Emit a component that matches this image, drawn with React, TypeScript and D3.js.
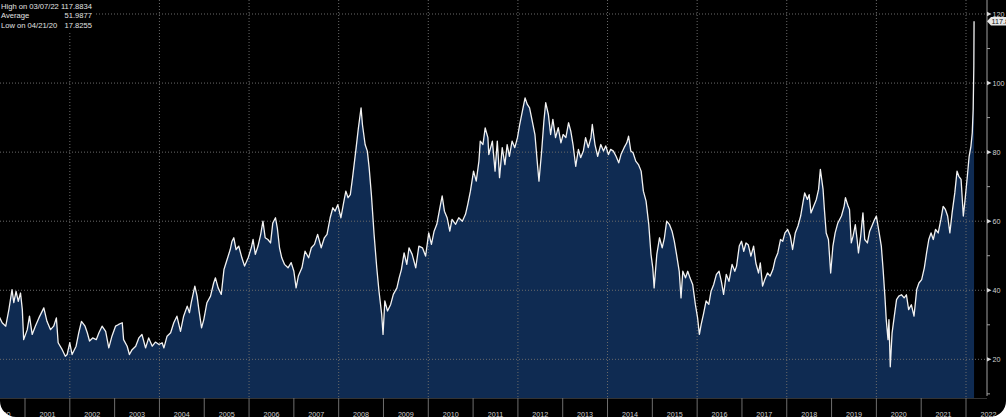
import React, { useRef, useEffect } from 'react';
import * as d3 from 'd3';

// price history, dates as decimal years
const dates = [
  2000.42, 2000.49, 2000.57, 2000.64, 2000.71, 2000.75, 2000.8, 2000.85, 2000.9, 2000.94, 2000.97,
  2001.05, 2001.1, 2001.16, 2001.23, 2001.31, 2001.42, 2001.49, 2001.57, 2001.64, 2001.7, 2001.74, 2001.83, 2001.9, 2001.94,
  2002.0, 2002.05, 2002.14, 2002.2, 2002.26, 2002.34, 2002.39, 2002.44, 2002.51, 2002.59, 2002.65, 2002.72, 2002.8, 2002.87, 2002.94,
  2003.02, 2003.09, 2003.17, 2003.2, 2003.28, 2003.33, 2003.39, 2003.47, 2003.54, 2003.61, 2003.69, 2003.76, 2003.84, 2003.91, 2003.99,
  2004.06, 2004.1, 2004.17, 2004.25, 2004.32, 2004.39, 2004.47, 2004.54, 2004.62, 2004.67, 2004.71, 2004.79, 2004.84, 2004.88, 2004.94, 2004.99,
  2005.06, 2005.14, 2005.21, 2005.25, 2005.31, 2005.38, 2005.44, 2005.51, 2005.58, 2005.62, 2005.66, 2005.71, 2005.77, 2005.84, 2005.9, 2005.98,
  2006.05, 2006.09, 2006.14, 2006.2, 2006.26, 2006.31, 2006.36, 2006.42, 2006.48, 2006.53, 2006.59, 2006.63, 2006.68, 2006.73, 2006.79, 2006.87, 2006.94,
  2007.0, 2007.05, 2007.1, 2007.18, 2007.25, 2007.33, 2007.39, 2007.46, 2007.53, 2007.61, 2007.68, 2007.74, 2007.81, 2007.87, 2007.92, 2007.98,
  2008.05, 2008.11, 2008.16, 2008.21, 2008.26, 2008.31, 2008.39, 2008.44, 2008.5, 2008.53, 2008.59, 2008.64, 2008.68, 2008.73, 2008.79, 2008.85, 2008.9, 2008.96, 2008.99,
  2009.03, 2009.09, 2009.16, 2009.22, 2009.3, 2009.35, 2009.4, 2009.46, 2009.52, 2009.57, 2009.64, 2009.72, 2009.79, 2009.87, 2009.94,
  2010.01, 2010.07, 2010.13, 2010.19, 2010.26, 2010.31, 2010.36, 2010.42, 2010.48, 2010.53, 2010.61, 2010.68, 2010.76, 2010.83, 2010.88, 2010.94,
  2011.01, 2011.07, 2011.13, 2011.16, 2011.22, 2011.27, 2011.33, 2011.35, 2011.43, 2011.49, 2011.54, 2011.59, 2011.65, 2011.71, 2011.76, 2011.81, 2011.87, 2011.93, 2011.99,
  2012.04, 2012.1, 2012.16, 2012.21, 2012.26, 2012.32, 2012.38, 2012.43, 2012.47, 2012.53, 2012.58, 2012.62, 2012.68, 2012.73, 2012.78, 2012.84, 2012.9, 2012.96,
  2013.01, 2013.07, 2013.13, 2013.18, 2013.23, 2013.29, 2013.35, 2013.4, 2013.46, 2013.51, 2013.57, 2013.63, 2013.66, 2013.72, 2013.78, 2013.85, 2013.91, 2013.96,
  2014.02, 2014.07, 2014.13, 2014.19, 2014.25, 2014.3, 2014.37, 2014.43, 2014.47, 2014.52, 2014.57, 2014.63, 2014.69, 2014.75, 2014.8, 2014.86, 2014.92, 2014.97,
  2015.01, 2015.04, 2015.1, 2015.16, 2015.22, 2015.27, 2015.32, 2015.38, 2015.44, 2015.49, 2015.54, 2015.6, 2015.64, 2015.68, 2015.74, 2015.79, 2015.84, 2015.9, 2015.96,
  2016.01, 2016.05, 2016.09, 2016.14, 2016.2, 2016.26, 2016.31, 2016.37, 2016.43, 2016.49, 2016.54, 2016.59, 2016.65, 2016.71, 2016.78, 2016.84, 2016.88, 2016.94, 2016.99,
  2017.04, 2017.09, 2017.14, 2017.2, 2017.26, 2017.31, 2017.37, 2017.41, 2017.46, 2017.51, 2017.57, 2017.63, 2017.69, 2017.74, 2017.8, 2017.86, 2017.91, 2017.96,
  2018.02, 2018.08, 2018.13, 2018.19, 2018.25, 2018.31, 2018.36, 2018.4, 2018.46, 2018.5, 2018.54, 2018.6, 2018.66, 2018.71, 2018.75, 2018.81, 2018.84, 2018.88, 2018.93, 2018.98,
  2019.03, 2019.08, 2019.14, 2019.22, 2019.28, 2019.31, 2019.37, 2019.4, 2019.44, 2019.48, 2019.53, 2019.57, 2019.6, 2019.65, 2019.7, 2019.74, 2019.8, 2019.85, 2019.9, 2019.96,
  2020.0, 2020.05, 2020.11, 2020.15, 2020.19, 2020.22, 2020.26, 2020.28, 2020.31, 2020.35, 2020.4, 2020.45, 2020.5, 2020.56, 2020.62, 2020.67, 2020.72, 2020.78, 2020.84, 2020.9, 2020.95,
  2021.01, 2021.07, 2021.12, 2021.17, 2021.22, 2021.27, 2021.32, 2021.38, 2021.44, 2021.49, 2021.54, 2021.59, 2021.64, 2021.69, 2021.75, 2021.8, 2021.84, 2021.89, 2021.94, 2021.98,
  2022.03, 2022.07, 2022.11, 2022.14, 2022.16, 2022.175, 2022.18,
];
const prices = [
  32.5, 30.6, 29.6, 34.4, 40.2, 36.4, 39.7, 36.8, 39.2, 34.4, 25.7,
  28.6, 32.5, 27.2, 29.6, 32.0, 34.9, 31.0, 28.6, 29.6, 32.0, 24.8, 22.8, 20.9, 21.4,
  24.8, 21.4, 23.8, 27.7, 31.0, 29.6, 27.7, 25.3, 26.2, 25.7, 27.7, 29.6, 28.1, 23.3, 26.7,
  29.6, 30.1, 30.6, 25.7, 23.8, 21.4, 22.8, 23.8, 26.2, 27.2, 23.3, 26.2, 23.8, 25.0, 24.3,
  24.8, 23.3, 26.7, 27.7, 30.6, 32.5, 28.1, 32.5, 35.4, 33.5, 36.4, 41.2, 38.3, 34.4, 29.1, 31.5,
  36.4, 38.3, 42.1, 43.6, 40.7, 38.8, 46.0, 48.9, 51.8, 54.2, 55.2, 51.8, 52.8, 49.4, 47.0, 49.4,
  52.3, 54.7, 50.4, 52.8, 56.2, 60.0, 55.2, 54.7, 53.7, 59.5, 61.0, 58.1, 52.3, 49.4, 47.5, 46.5, 48.0,
  45.5, 40.7, 44.1, 46.5, 51.3, 49.4, 52.3, 53.3, 56.2, 52.3, 55.2, 56.2, 61.0, 63.9, 62.9, 64.8,
  61.0, 65.3, 68.7, 66.8, 67.7, 72.6, 81.3, 87.0, 92.8, 88.0, 82.2, 80.3, 75.5, 67.7, 56.2, 46.5, 39.7, 33.0, 27.2,
  36.9, 34.0, 35.9, 38.8, 40.7, 43.6, 46.0, 50.8, 47.5, 52.3, 50.4, 46.5, 52.8, 52.3, 49.9,
  56.6, 53.3, 57.1, 59.1, 63.9, 67.3, 62.9, 61.0, 57.1, 60.5, 59.1, 61.0, 60.0, 62.0, 64.8, 68.7,
  74.5, 71.6, 77.4, 83.2, 82.2, 87.0, 84.2, 79.3, 83.2, 74.5, 83.2, 72.6, 81.3, 76.4, 82.2, 78.8, 83.2, 81.3, 84.2,
  88.0, 91.9, 95.7, 93.8, 92.8, 89.0, 85.1, 77.4, 71.6, 80.3, 89.0, 94.3, 90.9, 85.1, 89.5, 84.2, 87.1, 82.7,
  85.1, 84.2, 88.5, 86.1, 82.2, 75.9, 80.8, 78.4, 80.3, 84.2, 81.3, 84.2, 88.0, 82.2, 78.8, 82.2, 80.3, 81.8,
  79.3, 80.8, 80.3, 78.8, 76.9, 79.3, 81.3, 82.7, 84.6, 80.3, 79.8, 77.4, 76.4, 74.5, 68.7, 65.8, 59.1, 50.4,
  46.5, 40.7, 50.4, 55.2, 52.3, 55.2, 60.0, 59.1, 57.1, 54.2, 50.4, 45.5, 37.8, 45.5, 43.6, 45.5, 43.6, 41.7, 35.9,
  32.0, 27.2, 30.1, 33.0, 36.9, 35.9, 39.7, 41.7, 44.6, 45.5, 42.6, 38.8, 44.6, 42.6, 47.5, 45.5, 47.0, 52.8, 54.2,
  51.3, 53.7, 53.2, 49.9, 52.8, 47.9, 45.0, 47.9, 41.2, 43.1, 45.0, 44.1, 46.0, 48.9, 50.8, 54.7, 54.2, 56.6,
  57.6, 55.7, 51.8, 56.6, 58.6, 61.5, 65.3, 68.2, 66.3, 67.7, 62.4, 64.3, 66.3, 69.2, 75.0, 69.2, 63.4, 56.6, 54.7, 45.0,
  52.8, 56.6, 59.5, 61.5, 64.3, 66.8, 64.3, 63.4, 53.7, 55.7, 59.0, 54.7, 50.8, 55.7, 62.4, 54.7, 53.7, 57.1, 58.6, 60.5,
  61.5, 57.6, 52.8, 46.0, 38.3, 31.5, 25.7, 31.5, 17.83, 27.6, 32.5, 37.3, 38.3, 38.7, 37.8, 38.7, 34.4, 35.8, 32.5, 40.2, 42.1,
  43.1, 46.5, 50.8, 54.7, 56.6, 54.7, 57.6, 56.6, 60.5, 64.3, 63.4, 61.5, 56.6, 62.4, 68.2, 74.5, 73.0, 72.1, 61.5, 66.3,
  73.0, 78.8, 81.7, 85.6, 92.4, 105.0, 117.88,
];

const yearLabels = ['2000', '2001', '2002', '2003', '2004', '2005', '2006', '2007', '2008', '2009', '2010',
  '2011', '2012', '2013', '2014', '2015', '2016', '2017', '2018', '2019', '2020', '2021', '2022'];
const yTicks = [20, 40, 60, 80, 100, 120];
const yMinorTicks = [10, 30, 50, 70, 90, 110];
const legendLabels = ['Last Price', 'High on 03/07/22', 'Average', 'Low on 04/21/20'];
const legendValues = ['117.8834', '117.8834', '51.9877', '17.8255'];
const lastPrice = 117.8834;

function PriceChart() {
  const svgRef = useRef(null);

  useEffect(() => {
    const W = 1006;
    const H = 417;
    const axisX = 987;
    const bottom = 398;
    const font = '"Liberation Sans", Arial, sans-serif';

    const svg = d3.select(svgRef.current).attr('width', W).attr('height', H);
    svg.selectAll('*').remove();

    svg.append('rect').attr('width', W).attr('height', H).attr('fill', '#000');

    const x = d3.scaleLinear().domain([2000, 2022]).range([-19.8, 966]);
    const y = d3.scaleLinear().domain([0, 120]).range([428.4, 14]);
    const pts: [number, number][] = dates.map((d, i) => [d, prices[i]]);

    svg.append('clipPath').attr('id', 'plotclip')
      .append('rect').attr('x', 0).attr('y', 0).attr('width', axisX).attr('height', bottom);

    const plot = svg.append('g').attr('clip-path', 'url(#plotclip)');

    // area under the price
    const area = d3.area<[number, number]>()
      .x((d) => x(d[0]))
      .y0(bottom)
      .y1((d) => y(d[1]));
    plot.append('path').datum(pts).attr('d', area).attr('fill', '#0f2b52');

    // dotted grid
    plot.selectAll('.hgrid').data(yTicks).join('line')
      .attr('x1', 0).attr('x2', axisX)
      .attr('y1', (d) => y(d)).attr('y2', (d) => y(d))
      .attr('stroke', '#6a6a6a').attr('stroke-width', 1).attr('stroke-dasharray', '1,2');
    const evenYears = yearLabels.filter((s) => +s % 2 === 0 && +s > 2000);
    plot.selectAll('.vgrid').data(evenYears).join('line')
      .attr('x1', (d) => x(+d)).attr('x2', (d) => x(+d))
      .attr('y1', 0).attr('y2', bottom)
      .attr('stroke', '#6a6a6a').attr('stroke-width', 1).attr('stroke-dasharray', '1,2');

    const line = d3.line<[number, number]>()
      .x((d) => x(d[0]))
      .y((d) => y(d[1]));
    plot.append('path').datum(pts).attr('d', line)
      .attr('fill', 'none').attr('stroke', '#f2f2f2').attr('stroke-width', 1.3)
      .attr('stroke-linejoin', 'round');

    // right axis
    svg.append('line').attr('x1', axisX).attr('x2', axisX).attr('y1', 0).attr('y2', 396)
      .attr('stroke', '#a0a0a0').attr('stroke-width', 1);
    svg.selectAll('.minor').data(yMinorTicks).join('line')
      .attr('x1', axisX).attr('x2', axisX + 3)
      .attr('y1', (d) => y(d)).attr('y2', (d) => y(d))
      .attr('stroke', '#a0a0a0');
    svg.selectAll('.tri').data(yTicks).join('path')
      .attr('d', (d) => `M${axisX},${y(d) - 2.2}L${axisX + 4.5},${y(d)}L${axisX},${y(d) + 2.2}Z`)
      .attr('fill', '#d8d8d8');
    svg.selectAll('.ylab').data(yTicks).join('text')
      .attr('x', axisX + 5.5).attr('y', (d) => y(d) + 2.6)
      .attr('font-family', font).attr('font-size', 7.2).attr('fill', '#d0d0d0')
      .text((d) => d);

    // last price tag
    const ly = y(lastPrice);
    svg.append('path')
      .attr('d', `M${axisX},${ly}L${axisX + 4},${ly - 4.3}L${W},${ly - 4.3}L${W},${ly + 4.3}L${axisX + 4},${ly + 4.3}Z`)
      .attr('fill', '#e6e6e6');
    svg.append('text').attr('x', axisX + 4.5).attr('y', ly + 2.7)
      .attr('font-family', font).attr('font-size', 7.2).attr('fill', '#111')
      .text(lastPrice.toFixed(4));

    // bottom year band
    svg.append('line').attr('x1', 0).attr('x2', axisX).attr('y1', bottom + 0.5).attr('y2', bottom + 0.5)
      .attr('stroke', '#333');
    svg.selectAll('.ydiv').data(yearLabels).join('line')
      .attr('x1', (d) => x(+d)).attr('x2', (d) => x(+d))
      .attr('y1', bottom).attr('y2', H)
      .attr('stroke', '#6e6e6e').attr('stroke-width', 1);
    svg.selectAll('.ylbl').data(yearLabels).join('text')
      .attr('x', (d) => x(+d + 0.5)).attr('y', 416.5)
      .attr('text-anchor', 'middle')
      .attr('font-family', font).attr('font-size', 7.2).attr('fill', '#cfcfcf')
      .text((d) => d);

    // legend block
    svg.append('rect').attr('x', 0).attr('y', 0).attr('width', 95).attr('height', 31).attr('fill', '#000');
    const leg = svg.append('g').attr('font-family', font).attr('font-size', 7.6).attr('fill', '#e2e2e2');
    leg.selectAll('.ll').data(legendLabels).join('text')
      .attr('x', 1).attr('y', (d, i) => -1.2 + i * 9.7).text((d) => d);
    leg.selectAll('.lv').data(legendValues).join('text')
      .attr('x', 92).attr('y', (d, i) => -1.2 + i * 9.7)
      .attr('text-anchor', 'end').text((d) => d);

    // screen corners
    svg.append('path').attr('d', 'M0,401A16,16 0 0 0 16,417L0,417Z').attr('fill', '#fff');
    svg.append('path').attr('d', `M${W},401A16,16 0 0 1 ${W - 16},417L${W},417Z`).attr('fill', '#fff');
  }, []);

  return <svg ref={svgRef} style={{ position: 'fixed', left: 0, top: 0, display: 'block' }}></svg>;
}

export default function App() {
  return <PriceChart />;
}
